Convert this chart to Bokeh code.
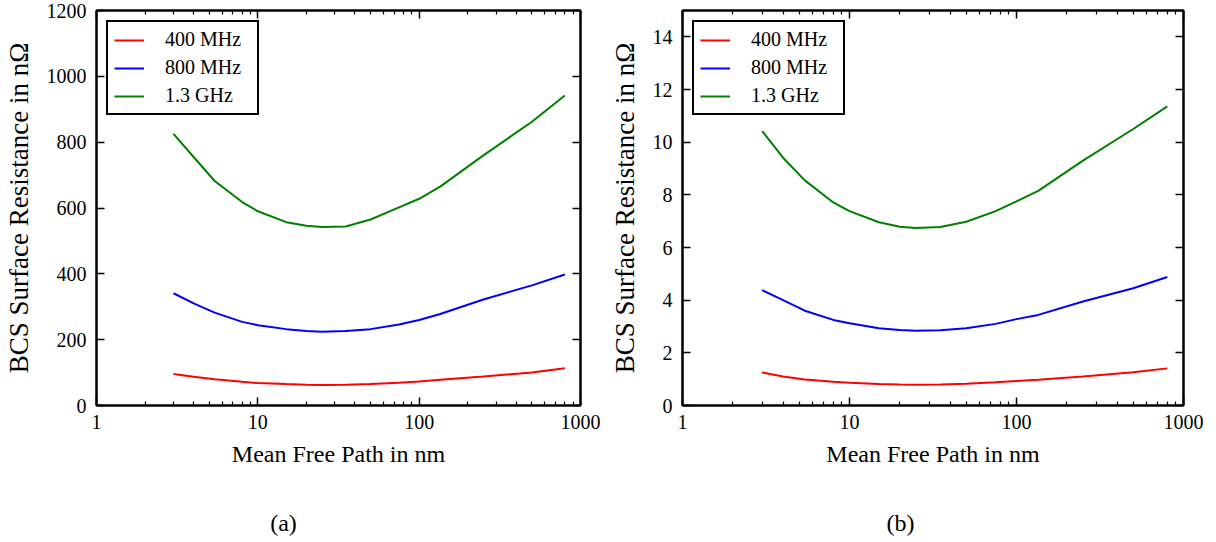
from bokeh.plotting import figure
from bokeh.models import (LogAxis, LinearAxis, FixedTicker, Range1d, Label, Legend, LegendItem)
from bokeh.layouts import row, column
from bokeh.embed import file_html
from bokeh.resources import INLINE

# ---- data ----
mfp = [3, 4, 5.4, 8, 10, 15, 20, 25, 35, 50, 75, 100, 135, 250, 500, 800]

# panel (a)
a_400 = [96, 87, 80, 72, 68, 65, 63, 62, 63, 65, 69, 73, 78, 88, 100, 113]
a_800 = [341, 310, 282, 254, 244, 232, 226, 224, 226, 232, 246, 260, 278, 322, 365, 398]
a_1300 = [825, 755, 682, 618, 590, 557, 546, 542, 544, 565, 602, 628, 665, 760, 862, 942]

# panel (b)
b_400 = [1.25, 1.10, 0.99, 0.90, 0.86, 0.82, 0.80, 0.79, 0.80, 0.83, 0.88, 0.93, 0.98, 1.10, 1.26, 1.41]
b_800 = [4.38, 4.00, 3.60, 3.25, 3.12, 2.93, 2.87, 2.84, 2.86, 2.93, 3.10, 3.28, 3.44, 3.95, 4.45, 4.88]
b_1300 = [10.42, 9.41, 8.55, 7.71, 7.38, 6.96, 6.79, 6.74, 6.78, 6.98, 7.38, 7.75, 8.15, 9.30, 10.50, 11.36]

labels = ["400 MHz", "800 MHz", "1.3 GHz"]
colors = ["#ff0000", "#0000ff", "#008000"]
captions = ["(a)", "(b)"]

x_major = [1, 10, 100, 1000]
x_major_labels = ["1", "10", "100", "1000"]
x_minor = [m * d for d in (1, 10, 100) for m in range(2, 10)]
a_yticks = [0, 200, 400, 600, 800, 1000, 1200]
b_yticks = [0, 2, 4, 6, 8, 10, 12, 14]

FONT = "Liberation Serif"


def style_axis(ax, show_labels=True):
    ax.major_tick_in = 8
    ax.major_tick_out = 0
    ax.minor_tick_in = 4
    ax.minor_tick_out = 0
    ax.axis_line_width = 2
    ax.axis_line_color = "black"
    ax.major_tick_line_width = 1.5
    ax.minor_tick_line_width = 1.2
    ax.major_tick_line_color = "black"
    ax.minor_tick_line_color = "black"
    ax.major_label_text_font = FONT
    ax.axis_label_text_font = FONT
    ax.axis_label_text_font_style = "normal"
    ax.axis_label_text_color = "black"
    if show_labels:
        ax.major_label_text_font_size = "20px"
        ax.major_label_text_color = "black"
    else:
        ax.major_label_text_font_size = "1px"
        ax.major_label_text_color = None
        ax.major_label_standoff = 0


def make_panel(series, ymax, yticks, width, bl, br, bt, bb):
    p = figure(width=width, height=500, x_axis_type="log",
               x_range=Range1d(1, 1000), y_range=Range1d(0, ymax),
               output_backend="svg", toolbar_location=None,
               min_border_left=bl, min_border_right=br,
               min_border_top=bt, min_border_bottom=bb)
    p.grid.visible = False
    p.outline_line_color = "black"
    p.outline_line_width = 2

    xt = FixedTicker(ticks=x_major, minor_ticks=x_minor)
    yt = FixedTicker(ticks=yticks, minor_ticks=[])
    p.xaxis.ticker = xt
    p.yaxis.ticker = yt
    p.xaxis.major_label_overrides = dict(zip(x_major, x_major_labels))
    p.xaxis.axis_label = "Mean Free Path in nm"
    p.yaxis.axis_label = "BCS Surface Resistance in nΩ"
    for ax in p.xaxis + p.yaxis:
        style_axis(ax)
    p.xaxis.major_label_standoff = 9
    p.yaxis.major_label_standoff = 10
    p.xaxis.axis_label_standoff = 9
    p.yaxis.axis_label_standoff = 10
    p.xaxis.axis_label_text_font_size = "24px"
    p.yaxis.axis_label_text_font_size = "27px"

    top = LogAxis(ticker=xt)
    style_axis(top, show_labels=False)
    p.add_layout(top, "above")
    right = LinearAxis(ticker=yt)
    style_axis(right, show_labels=False)
    p.add_layout(right, "right")

    items = []
    for ys, lab, col in zip(series, labels, colors):
        r = p.line(mfp, ys, line_color=col, line_width=2)
        items.append(LegendItem(label=lab, renderers=[r]))
    leg = Legend(items=items, location="top_left")
    leg.border_line_color = "black"
    leg.border_line_width = 2
    leg.border_line_alpha = 1
    leg.background_fill_color = "white"
    leg.background_fill_alpha = 1
    leg.label_text_font = FONT
    leg.label_text_font_size = "20px"
    leg.label_text_color = "black"
    leg.glyph_width = 30
    leg.glyph_height = 20
    leg.label_height = 20
    leg.spacing = 5
    leg.padding = 6
    leg.margin = 10
    leg.label_standoff = 21
    leg.label_width = 86
    p.add_layout(leg, "center")
    return p


p1 = make_panel([a_400, a_800, a_1300], 1200, a_yticks, 600, 92, 20, 10, 95)
p2 = make_panel([b_400, b_800, b_1300], 15, b_yticks, 616, 82, 33, 9, 94)

# caption strip
cap = figure(width=1216, height=42, output_backend="svg", toolbar_location=None,
             x_axis_location=None, y_axis_location=None, min_border=0,
             x_range=Range1d(0, 1216), y_range=Range1d(0, 42))
cap.outline_line_color = None
cap.grid.visible = False
for txt, cx in zip(captions, [283, 900]):
    cap.add_layout(Label(x=cx, y=20, x_units="screen", y_units="screen", text=txt,
                         text_font=FONT, text_font_size="24px", text_align="center",
                         text_baseline="middle", text_color="black"))

layout = column(row(p1, p2), cap)
open("out.html", "w").write(file_html(layout, INLINE))
